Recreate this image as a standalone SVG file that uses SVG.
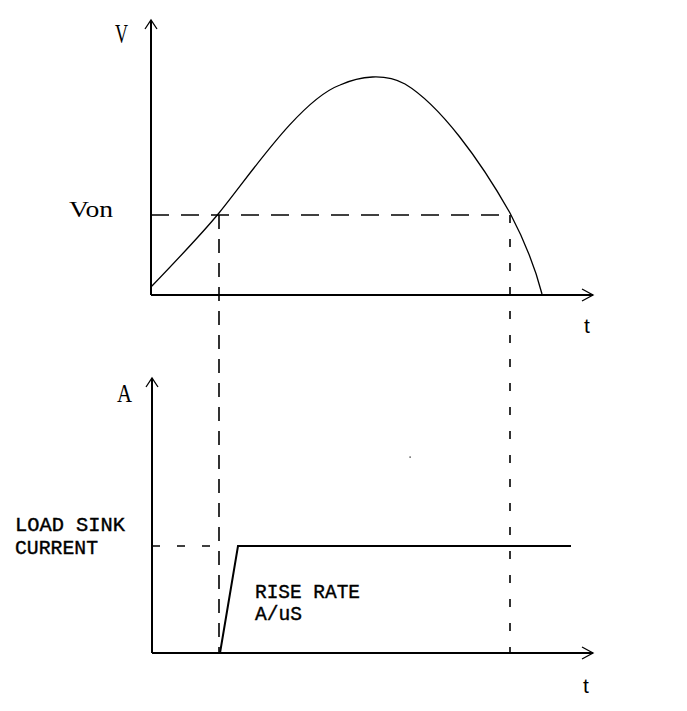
<svg xmlns="http://www.w3.org/2000/svg" width="687" height="711" viewBox="0 0 687 711">
<style>
.axis{stroke:#000;stroke-width:2;fill:none}
.head{stroke:#000;stroke-width:1.3;fill:none}
.curve{stroke:#000;stroke-width:1.3;fill:none}
.dash{stroke:#000;stroke-width:1.6;fill:none}
.lbl{font-family:"Liberation Serif",serif;fill:#000}
.mono{font-family:"Liberation Mono",monospace;font-size:20px;fill:#000;stroke:#000;stroke-width:0.4}
.t{font-family:"Liberation Sans",sans-serif;font-size:21px;fill:#000}
</style>
<rect width="687" height="711" fill="#fff"/>
<g id="voltage-axes">
<line class="axis" x1="151" y1="20" x2="151" y2="295"/>
<line class="axis" x1="151" y1="295" x2="593" y2="295"/>
<polyline class="head" points="145,29 151,20 157,29"/>
<polyline class="head" points="582,289 593,295 582,301"/>
<text class="lbl" x="115" y="43" font-size="27" textLength="13" lengthAdjust="spacingAndGlyphs">V</text>
<text class="lbl" x="69" y="217" font-size="24" textLength="44" lengthAdjust="spacingAndGlyphs">Von</text>
<text class="t" x="584" y="333">t</text>
</g>
<g id="voltage-curve">
<path class="curve" d="M151,287 C175,262 200,236 219,213 C250,175 300,100 340,85 C360,76 385,73 405,84 C440,105 480,160 510,213 Q532,255 542,294"/>
</g>
<g id="current-axes">
<line class="axis" x1="152" y1="378" x2="152" y2="653"/>
<line class="axis" x1="152" y1="653" x2="593" y2="653"/>
<polyline class="head" points="146,387 152,378 158,387"/>
<polyline class="head" points="582,647 593,653 582,659"/>
<text class="lbl" x="117" y="402" font-size="26" textLength="15" lengthAdjust="spacingAndGlyphs">A</text>
<text class="t" x="583" y="693">t</text>
<text class="mono" x="15" y="531" textLength="110" lengthAdjust="spacingAndGlyphs">LOAD SINK</text>
<text class="mono" x="15" y="554" textLength="83" lengthAdjust="spacingAndGlyphs">CURRENT</text>
<text class="mono" x="255" y="598" textLength="105" lengthAdjust="spacingAndGlyphs">RISE RATE</text>
<text class="mono" x="255" y="620" textLength="47" lengthAdjust="spacingAndGlyphs">A/uS</text>
</g>
<g id="current-curve">
<polyline class="axis" points="220,653 238,546 571,546" stroke-width="1.6"/>
</g>
<g id="connectors">
<line class="dash" x1="151" y1="215" x2="510" y2="215" stroke-dasharray="18 12"/>
<line class="dash" x1="219" y1="215" x2="219" y2="653" stroke-dasharray="14 10"/>
<line class="dash" x1="510" y1="215" x2="510" y2="653" stroke-dasharray="8 16"/>
<line class="dash" x1="152" y1="546" x2="225" y2="546" stroke-dasharray="8 17"/>
</g>
<rect x="409.5" y="456.5" width="1.2" height="1.2" fill="#000"/>
</svg>
